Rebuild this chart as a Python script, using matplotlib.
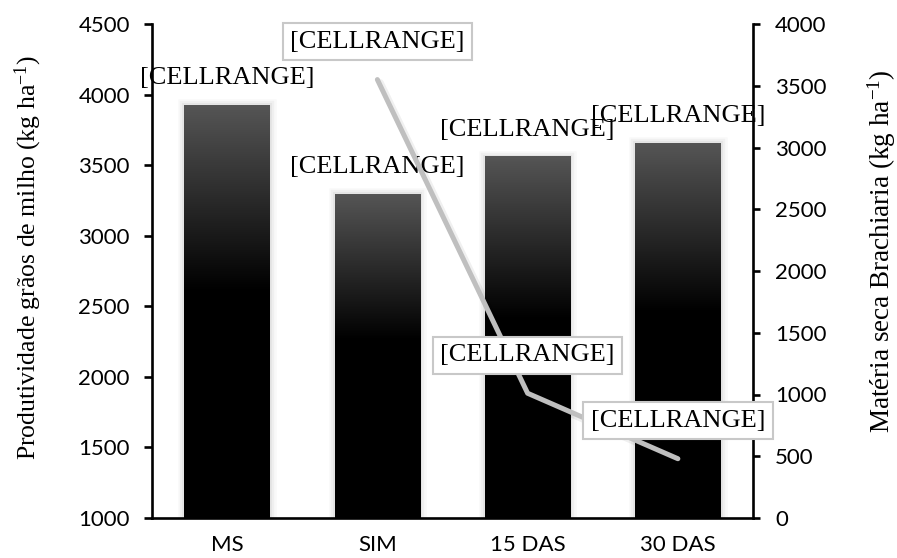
import numpy as np
import matplotlib
matplotlib.use("Agg")
import matplotlib.pyplot as plt
from matplotlib.patches import Rectangle
from matplotlib import patheffects as pe
from matplotlib.colors import LinearSegmentedColormap

# ---- data ----
categories = ["MS", "SIM", "15 DAS", "30 DAS"]
grain_yield = [3925, 3295, 3558, 3655]          # kg/ha, left axis (bars)
brachiaria_dm = [np.nan, 3550, 1010, 480]       # kg/ha, right axis (line)
bar_labels = ["[CELLRANGE]", "[CELLRANGE]", "[CELLRANGE]", "[CELLRANGE]"]
line_labels = ["", "[CELLRANGE]", "[CELLRANGE]", "[CELLRANGE]"]
left_ticks = [1000, 1500, 2000, 2500, 3000, 3500, 4000, 4500]
right_ticks = [0, 500, 1000, 1500, 2000, 2500, 3000, 3500, 4000]

plt.rcParams['mathtext.fontset'] = 'custom'
plt.rcParams['mathtext.rm'] = 'Liberation Serif'
plt.rcParams['mathtext.it'] = 'Liberation Serif:italic'

SERIF = 'Liberation Serif'
SANS = 'Lato'

W, H = 897, 558
fig = plt.figure(figsize=(W / 100, H / 100), dpi=100)
ax = fig.add_axes([152 / W, 1 - 518 / H, 601 / W, 494 / H])
ax2 = ax.twinx()

ax.set_xlim(-0.5, 3.5)
ax.set_ylim(left_ticks[0], left_ticks[-1])
ax2.set_ylim(right_ticks[0], right_ticks[-1])

# gradient bars: dark grey at the top fading to black
cmap = LinearSegmentedColormap.from_list(
    "bar", [(0.0, "#000000"), (0.55, "#000000"), (1.0, "#555555")])
grad = np.linspace(0, 1, 256).reshape(-1, 1)
bw = 0.57
base = left_ticks[0]
for i, v in enumerate(grain_yield):
    x0 = i - bw / 2
    shadow = Rectangle((x0, base), bw, v - base, facecolor="#000000",
                       edgecolor="none", zorder=1)
    shadow.set_path_effects([
        pe.Stroke(linewidth=9, foreground="#000000", alpha=0.025),
        pe.Stroke(linewidth=6, foreground="#000000", alpha=0.035),
        pe.Stroke(linewidth=3, foreground="#000000", alpha=0.045),
        pe.Normal()])
    ax.add_patch(shadow)
    ax.imshow(grad, extent=(x0, x0 + bw, base, v), origin="lower",
              aspect="auto", cmap=cmap, vmin=0, vmax=1, zorder=2,
              interpolation="bilinear")
    ax.annotate(bar_labels[i], (i, v), xytext=(0, 27),
                textcoords="offset pixels", ha="center", va="center",
                fontsize=19, family=SERIF, color="black", zorder=3)

ax.set_xlim(-0.5, 3.5)
ax.set_ylim(left_ticks[0], left_ticks[-1])

# line series on the secondary axis
xs = np.arange(len(categories))
ax2.plot(xs + 0.02, np.array(brachiaria_dm) - 25, color="#000000", alpha=0.06,
         lw=5, solid_capstyle="round", solid_joinstyle="round", zorder=2)
ax2.plot(xs, brachiaria_dm, color="#bfbfbf", lw=3.6,
         solid_capstyle="round", solid_joinstyle="round", zorder=3)
for i, v in enumerate(brachiaria_dm):
    if np.isnan(v):
        continue
    ax2.annotate(line_labels[i], (i, v), xytext=(0, 38),
                 textcoords="offset pixels", ha="center", va="center",
                 fontsize=19, family=SERIF, color="black", zorder=4,
                 bbox=dict(boxstyle="square,pad=0.28", fc="white",
                           ec="#c8c8c8", lw=1.5))

# axes styling
for s in ["top", "right"]:
    ax.spines[s].set_visible(False)
for s in ["top", "left", "bottom"]:
    ax2.spines[s].set_visible(False)
for sp in [ax.spines["left"], ax.spines["bottom"], ax2.spines["right"]]:
    sp.set_linewidth(1.9)
    sp.set_color("black")

ax.set_xticks(xs)
ax.set_xticklabels(categories, family=SANS, fontsize=16)
ax.set_yticks(left_ticks)
ax.set_yticklabels([str(t) for t in left_ticks], family=SANS, fontsize=16)
ax2.set_yticks(right_ticks)
ax2.set_yticklabels([str(t) for t in right_ticks], family=SANS, fontsize=16)
ax.tick_params(axis="x", length=0, pad=12)
ax.tick_params(axis="y", direction="out", length=6, width=1.9, pad=10)
ax2.tick_params(axis="y", direction="out", length=5, width=1.9, pad=11)

fig.text(28 / W, 1 - 258 / H,
         "Produtividade grãos de milho (kg ha$^{\\mathrm{-1}}$)",
         rotation=90, ha="center", va="center", fontsize=18.5, family=SERIF)
fig.text(882 / W, 1 - 251 / H,
         "Matéria seca Brachiaria (kg ha$^{\\mathrm{-1}}$)",
         rotation=90, ha="center", va="center", fontsize=19.5, family=SERIF)

fig.savefig("out.png", dpi=100, facecolor="white")
